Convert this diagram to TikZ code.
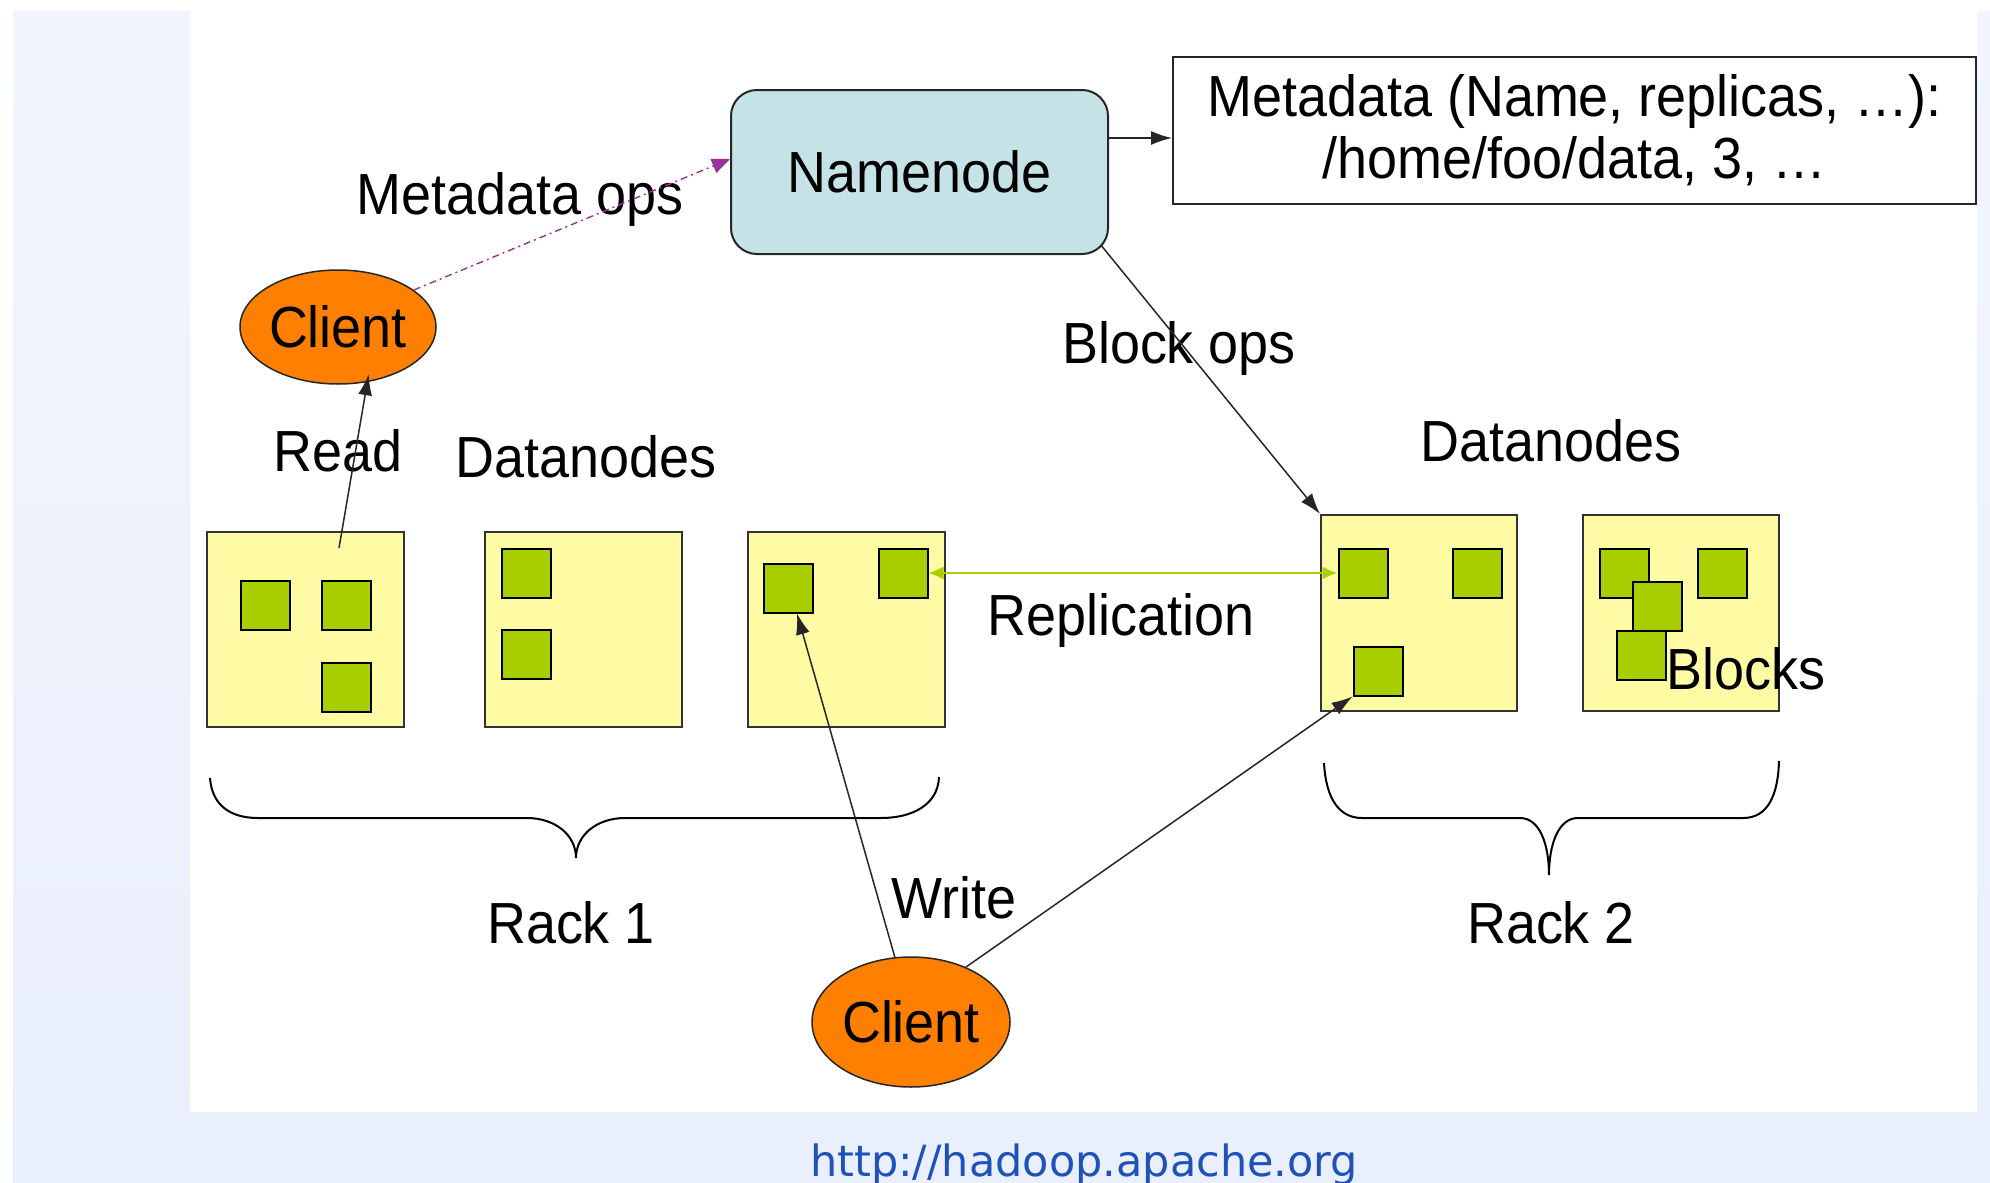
\documentclass[tikz,border=0pt]{standalone}
\usepackage{fontspec}
\setmainfont{Liberation Sans}[FakeStretch=0.93]
\newfontfamily\urlfont{DejaVu Sans}
\usetikzlibrary{arrows.meta,shapes.geometric,calc}
\definecolor{bgtop}{RGB}{242,245,254}
\definecolor{bgbot}{RGB}{233,239,252}
\definecolor{nnfill}{RGB}{197,227,230}
\definecolor{dnyellow}{RGB}{255,251,165}
\definecolor{blkgreen}{RGB}{168,206,0}
\definecolor{clorange}{RGB}{255,127,0}
\definecolor{mopurple}{RGB}{153,51,153}
\definecolor{repgreen}{RGB}{168,208,0}
\definecolor{urlblue}{RGB}{30,82,184}
\tikzset{
  dnbox/.style={draw=black!80, fill=dnyellow, line width=2pt, minimum width=197pt, minimum height=195pt, inner sep=0pt},
  blk/.style={draw=black, fill=blkgreen, line width=2pt, minimum size=49pt, inner sep=0pt},
  clientnode/.style={ellipse, draw=black!85, fill=clorange, line width=1.5pt, inner sep=0pt},
  conn/.style={draw=black!85, line width=1.5pt, -{Latex[length=21pt,width=14pt]}},
  lbl/.style={anchor=base, inner sep=0pt},
  bracepath/.style={draw=black, line width=2pt},
}
\begin{document}
\begin{tikzpicture}[x=1pt,y=-1pt,font=\fontsize{58}{62}\selectfont]
\useasboundingbox (0,0) rectangle (1990,1183);
% background
\shade[top color=bgtop, bottom color=bgbot] (13,11) rectangle (1990,1183);
\fill[white] (190,0) rectangle (1977,1112);

\coordinate (y138) at (0,138);
\coordinate (y159) at (0,159);

% namenode and metadata
\node[draw=black!85, fill=nnfill, line width=2pt, rounded corners=26pt, minimum width=377pt, minimum height=164pt, inner sep=0pt] (nn) at (919.5,172) {Namenode};
\node[draw=black!85, fill=white, line width=2pt, minimum width=803pt, minimum height=147pt, align=center, inner sep=0pt] (meta) at (1574.5,130.5) {Metadata (Name, replicas, …):\\/home/foo/data, 3, …};

% clients
\node[clientnode, minimum width=196pt, minimum height=114pt] (c1) at (338,327) {Client};
\node[clientnode, minimum width=198pt, minimum height=130pt] (c2) at (911,1022) {Client};

% datanodes
\node[dnbox] (dn1) at (305.5,629.5) {};
\node[dnbox] (dn2) at (583.5,629.5) {};
\node[dnbox] (dn3) at (846,629.5) {};
\node[dnbox, minimum width=196pt, minimum height=196pt] (dn4) at (1419,613) {};
\node[dnbox, minimum width=196pt, minimum height=196pt] (dn5) at (1680.5,613) {};

% blocks
\node[blk] (b11) at (265,605) {};
\node[blk] (b12) at (346,605) {};
\node[blk] (b13) at (346,687) {};
\node[blk] (b21) at (526,573) {};
\node[blk] (b22) at (526,654) {};
\node[blk] (b31) at (788,588) {};
\node[blk] (b32) at (903,573) {};
\node[blk] (b41) at (1363,573) {};
\node[blk] (b42) at (1477,573) {};
\node[blk] (b43) at (1378,671) {};
\node[blk] (b51) at (1624,573) {};
\node[blk] (b52) at (1722,573) {};
\node[blk] (b53) at (1657,606) {};
\node[blk] (b54) at (1641,655) {};

% labels
\node[lbl] (lmo) at (520,214) {Metadata ops};
\node[lbl] (lread) at (338,471) {Read};
\node[lbl] (ldn1) at (586,477) {Datanodes};
\node[lbl] (ldn2) at (1551,461) {Datanodes};
\node[lbl] (lbo) at (1179,363) {Block ops};
\node[lbl] (lrep) at (1121,635) {Replication};
\node[lbl, anchor=base west] (lblk) at (1666,689) {Blocks};
\node[lbl] (lwrite) at (954,918) {Write};
\node[lbl] (lr1) at (571,943) {Rack 1};
\node[lbl] (lr2) at (1551,943) {Rack 2};
\node[lbl, font=\urlfont\fontsize{43}{48}\selectfont, text=urlblue] (url) at (1084,1176) {http://hadoop.apache.org};

% connectors
\coordinate (rd) at (339,548);
\draw[conn] (nn.east |- y138) -- (meta.west |- y138);
\draw[mopurple, line width=1.4pt, dash pattern=on 7pt off 4pt on 2pt off 4pt, -{Triangle[length=18pt,width=15pt]}] (c1.26) -- (nn.west |- y159);
\draw[conn, shorten >=-8pt] (rd) -- (c1.-62);
\draw[conn, shorten <=-12pt] (nn.south east) -- (dn4.north west);
\draw[repgreen, line width=2pt, {Latex[length=15pt,width=13pt]}-{Latex[length=15pt,width=13pt]}] (b32.east) -- (b41.west);
\draw[conn] (c2.104) -- ($(b31.south)+(9,0)$);
\draw[conn] (c2.45) -- (b43.south west);

% braces
\draw[bracepath] (210,778) .. controls (212,805) and (230,818) .. (258,818) -- (527,818)
  .. controls (555,818) and (576,835) .. (576,858)
  .. controls (576,835) and (597,818) .. (625,818) -- (881,818)
  .. controls (912,818) and (938,805) .. (939,777);
\draw[bracepath] (1324,763) .. controls (1326,800) and (1340,818) .. (1362,818) -- (1520,818)
  .. controls (1540,818) and (1549,845) .. (1549,875)
  .. controls (1549,845) and (1558,818) .. (1578,818) -- (1743,818)
  .. controls (1768,818) and (1778,795) .. (1779,761);
\end{tikzpicture}
\end{document}
